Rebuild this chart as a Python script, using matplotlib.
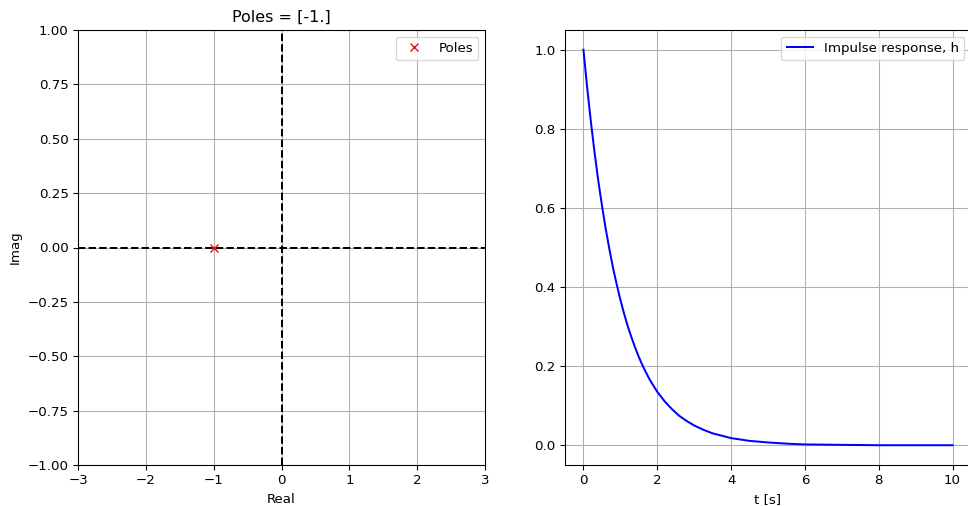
import numpy as np
import matplotlib
matplotlib.use("Agg")
import matplotlib.pyplot as plt

# --- pole / impulse response data ---
poles = [-1.0]

t = [0.0, 0.1, 0.2, 0.3, 0.4, 0.5, 0.6, 0.7, 0.8, 0.9,
     1.0, 1.1, 1.2, 1.3, 1.4, 1.5, 1.6, 1.7, 1.8, 1.9,
     2.0, 2.2, 2.4, 2.6, 2.8, 3.0, 3.25, 3.5, 3.75, 4.0,
     4.5, 5.0, 5.5, 6.0, 7.0, 8.0, 9.0, 10.0]
h = [1.000, 0.905, 0.819, 0.741, 0.670, 0.607, 0.549, 0.497, 0.449, 0.407,
     0.368, 0.333, 0.301, 0.273, 0.247, 0.223, 0.202, 0.183, 0.165, 0.150,
     0.135, 0.111, 0.091, 0.074, 0.061, 0.050, 0.039, 0.030, 0.024, 0.018,
     0.011, 0.007, 0.004, 0.002, 0.001, 0.000, 0.000, 0.000]

DPI = 96
W, H = 968, 506
fig = plt.figure(figsize=(W / DPI, H / DPI), dpi=DPI)
ax1 = fig.add_axes([78 / W, (H - 465) / H, 407 / W, 435 / H])
ax2 = fig.add_axes([565 / W, (H - 465) / H, 406 / W, 435 / H])

# Pole-zero plot
ax1.axhline(0, color="k", linestyle="--")
ax1.axvline(0, color="k", linestyle="--")
ax1.plot(np.real(poles), np.imag(poles), "rx", label="Poles")
ax1.set_xlim(-3, 3)
ax1.set_ylim(-1, 1)
ax1.set_xlabel("Real")
ax1.set_ylabel("Imag")
ax1.set_title(f"Poles = {np.array(poles)}")
ax1.legend(loc="upper right")
ax1.grid(True)

# Impulse response
ax2.plot(t, h, "b", label="Impulse response, h")
ax2.set_xlabel("t [s]")
ax2.legend(loc="upper right")
ax2.grid(True)

fig.savefig("out.png", dpi=DPI)
